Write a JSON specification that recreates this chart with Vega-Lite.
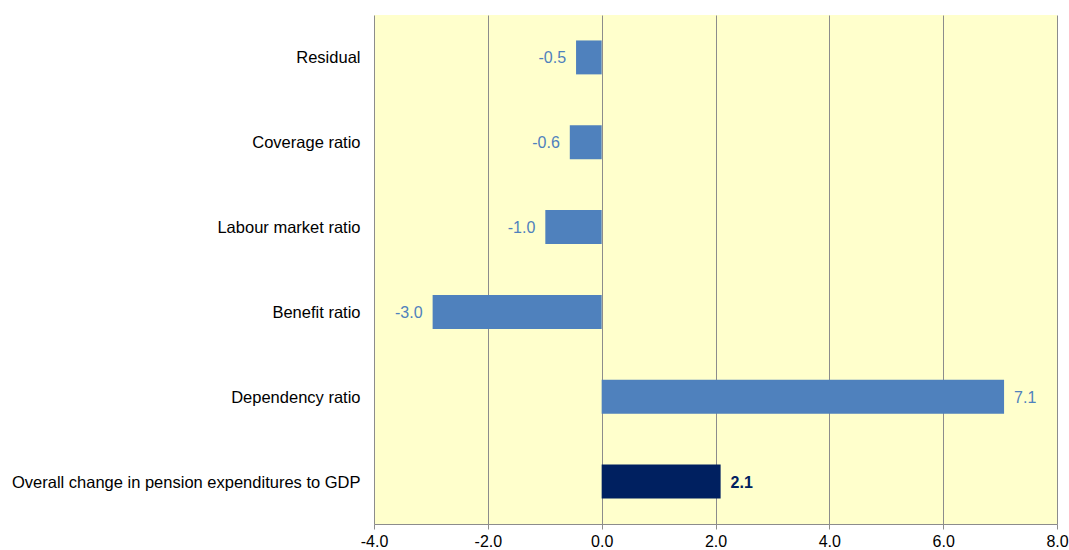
{
  "$schema": "https://vega.github.io/schema/vega-lite/v6.json",
  "autosize": "none",
  "padding": {"left": 374, "top": 15, "right": 12, "bottom": 26},
  "width": 683,
  "height": 509,
  "background": "white",
  "config": {
    "view": {"fill": "#FFFFCC", "stroke": null},
    "font": "Liberation Sans"
  },
  "data": {
    "values": [
      {"factor": "Residual\u00a0\u00a0", "value": -0.45, "label": "-0.5", "kind": "component"},
      {"factor": "Coverage ratio", "value": -0.56, "label": "-0.6", "kind": "component"},
      {"factor": "Labour market ratio", "value": -0.99, "label": "-1.0", "kind": "component"},
      {"factor": "Benefit ratio", "value": -2.97, "label": "-3.0", "kind": "component"},
      {"factor": "Dependency ratio", "value": 7.07, "label": "7.1", "kind": "component"},
      {"factor": "Overall change in pension expenditures to GDP", "value": 2.09, "label": "2.1", "kind": "total"}
    ]
  },
  "encoding": {
    "y": {
      "field": "factor",
      "type": "nominal",
      "sort": null,
      "scale": {"paddingInner": 0.6, "paddingOuter": 0.3},
      "axis": {
        "title": null,
        "ticks": false,
        "domain": false,
        "labelFontSize": 16.5,
        "labelColor": "#000000",
        "labelPadding": 14,
        "labelLimit": 400,
        "labelOffset": 1
      }
    }
  },
  "layer": [
    {
      "mark": {"type": "bar"},
      "encoding": {
        "x": {
          "field": "value",
          "type": "quantitative",
          "scale": {"domain": [-4, 8], "nice": false},
          "axis": {
            "title": null,
            "values": [-4, -2, 0, 2, 4, 6, 8],
            "labelExpr": "(datum.value < 0 ? '-' : '') + format(abs(datum.value), '.1f')",
            "grid": true,
            "gridColor": "#8C8C8C",
            "gridWidth": 1,
            "domainColor": "#8C8C8C",
            "tickColor": "#8C8C8C",
            "tickSize": 5,
            "labelFontSize": 16,
            "labelColor": "#000000",
            "labelPadding": 4,
            "labelFlush": false
          }
        },
        "color": {
          "field": "kind",
          "type": "nominal",
          "scale": {"domain": ["component", "total"], "range": ["#4F81BD", "#002060"]},
          "legend": null
        }
      }
    },
    {
      "transform": [{"filter": "datum.value < 0"}],
      "mark": {"type": "text", "fontSize": 16, "baseline": "middle", "align": "right", "dx": -10, "dy": 1, "color": "#4F81BD"},
      "encoding": {
        "x": {"field": "value", "type": "quantitative"},
        "text": {"field": "label"}
      }
    },
    {
      "transform": [{"filter": "datum.value >= 0 && datum.kind === 'component'"}],
      "mark": {"type": "text", "fontSize": 16, "baseline": "middle", "align": "left", "dx": 10, "dy": 1, "color": "#4F81BD"},
      "encoding": {
        "x": {"field": "value", "type": "quantitative"},
        "text": {"field": "label"}
      }
    },
    {
      "transform": [{"filter": "datum.kind === 'total'"}],
      "mark": {"type": "text", "fontSize": 16, "baseline": "middle", "align": "left", "dx": 10, "dy": 1, "color": "#002060", "fontWeight": "bold"},
      "encoding": {
        "x": {"field": "value", "type": "quantitative"},
        "text": {"field": "label"}
      }
    }
  ]
}
